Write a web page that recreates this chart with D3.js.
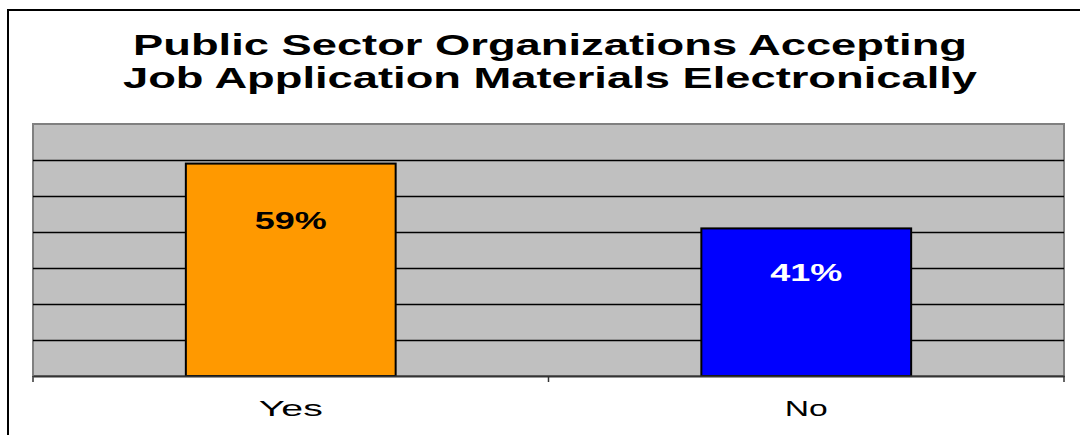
<!DOCTYPE html>
<html>
<head>
<meta charset="utf-8">
<script src="https://cdn.jsdelivr.net/npm/d3@7"></script>
<style>
	body { margin: 0; background: #fff; }
	svg { display: block; }
	text { font-family: "Liberation Sans", Arial, sans-serif; }
</style>
</head>
<body>
<div></div>
<script>
var titleLines = [
	"Public Sector Organizations Accepting",
	"Job Application Materials Electronically"
];
var categories = ["Yes", "No"];
var values = [0.59, 0.41];
var barColors = ["#FF9900", "#0000FF"];
var labelColors = ["#000000", "#FFFFFF"];
var yTicks = [0, 0.1, 0.2, 0.3, 0.4, 0.5, 0.6, 0.7];

var svgContainer,
	width = 1080,
	height = 435,
	plot = { left: 33, right: 1064, top: 124, bottom: 376 };

function onLoad() {
	svgContainer = d3.select("div")
	.append("svg")
	.attr("width", width)
	.attr("height", height);

	// outer chart border, runs off the right and bottom
	svgContainer.append("rect")
	.attr("x", 8)
	.attr("y", 10)
	.attr("width", 1100)
	.attr("height", 460)
	.attr("fill", "none")
	.attr("stroke", "#000")
	.attr("stroke-width", 2);

	var xScale = d3.scaleBand()
	.domain(categories)
	.range([plot.left, plot.right])
	.paddingInner(0.593)
	.paddingOuter(0.2965);

	var yScale = d3.scaleLinear()
	.domain([0, 0.7])
	.range([plot.bottom, plot.top]);

	drawTitle();
	drawPlotArea(yScale);
	drawBars(xScale, yScale);
	drawAxis(xScale);
}

function drawTitle() {
	var widths = [834, 854];
	svgContainer.selectAll(".title")
	.data(titleLines)
	.enter()
	.append("text")
	.attr("class", "title")
	.attr("x", 550)
	.attr("y", (d, i) => 55 + i * 33)
	.attr("text-anchor", "middle")
	.attr("textLength", (d, i) => widths[i])
	.attr("lengthAdjust", "spacingAndGlyphs")
	.style("font-size", "30px")
	.style("font-weight", "bold")
	.text(d => d);
}

function drawPlotArea(yScale) {
	svgContainer.append("rect")
	.attr("x", plot.left)
	.attr("y", plot.top)
	.attr("width", plot.right - plot.left)
	.attr("height", plot.bottom - plot.top)
	.attr("fill", "#C0C0C0")
	.attr("stroke", "#808080")
	.attr("stroke-width", 2);

	svgContainer.selectAll(".grid")
	.data(yTicks.slice(1, -1))
	.enter()
	.append("line")
	.attr("class", "grid")
	.attr("x1", plot.left)
	.attr("x2", plot.right)
	.attr("y1", d => Math.round(yScale(d)) + 0.5)
	.attr("y2", d => Math.round(yScale(d)) + 0.5)
	.attr("stroke", "#000")
	.attr("stroke-width", 1.5);
}

function drawBars(xScale, yScale) {
	svgContainer.selectAll(".bar")
	.data(values)
	.enter()
	.append("rect")
	.attr("class", "bar")
	.attr("x", (d, i) => xScale(categories[i]))
	.attr("y", d => yScale(d))
	.attr("width", xScale.bandwidth())
	.attr("height", d => plot.bottom - yScale(d))
	.attr("fill", (d, i) => barColors[i])
	.attr("stroke", "#000")
	.attr("stroke-width", 2);

	// label drop below the bar top, as placed in the original
	var drop = [65, 53];
	svgContainer.selectAll(".value")
	.data(values)
	.enter()
	.append("text")
	.attr("class", "value")
	.attr("x", (d, i) => xScale(categories[i]) + xScale.bandwidth() / 2)
	.attr("y", (d, i) => yScale(d) + drop[i])
	.attr("text-anchor", "middle")
	.attr("textLength", 72)
	.attr("lengthAdjust", "spacingAndGlyphs")
	.style("font-size", "24px")
	.style("font-weight", "bold")
	.attr("fill", (d, i) => labelColors[i])
	.text(d => Math.round(d * 100) + "%");
}

function drawAxis(xScale) {
	var xAxis = d3.axisBottom(xScale)
	.tickSize(0)
	.tickPadding(24);

	var axisGroup = svgContainer.append("g")
	.attr("transform", "translate(0," + plot.bottom + ")")
	.call(xAxis);

	axisGroup.select(".domain")
	.attr("stroke", "#333")
	.attr("stroke-width", 2);

	var labelWidths = { Yes: 64, No: 43 };
	axisGroup.selectAll("text")
	.attr("fill", "#000")
	.attr("textLength", d => labelWidths[d])
	.attr("lengthAdjust", "spacingAndGlyphs")
	.style("font-size", "22px")
	.style("font-family", "'Liberation Sans', Arial, sans-serif");

	// category separator ticks
	var step = xScale.step();
	var tickPos = [plot.left, plot.left + step, plot.right];
	svgContainer.selectAll(".sep")
	.data(tickPos)
	.enter()
	.append("line")
	.attr("class", "sep")
	.attr("x1", d => d)
	.attr("x2", d => d)
	.attr("y1", plot.bottom)
	.attr("y2", plot.bottom + 6)
	.attr("stroke", "#333")
	.attr("stroke-width", 1.5);
}

onLoad();
</script>
</body>
</html>
